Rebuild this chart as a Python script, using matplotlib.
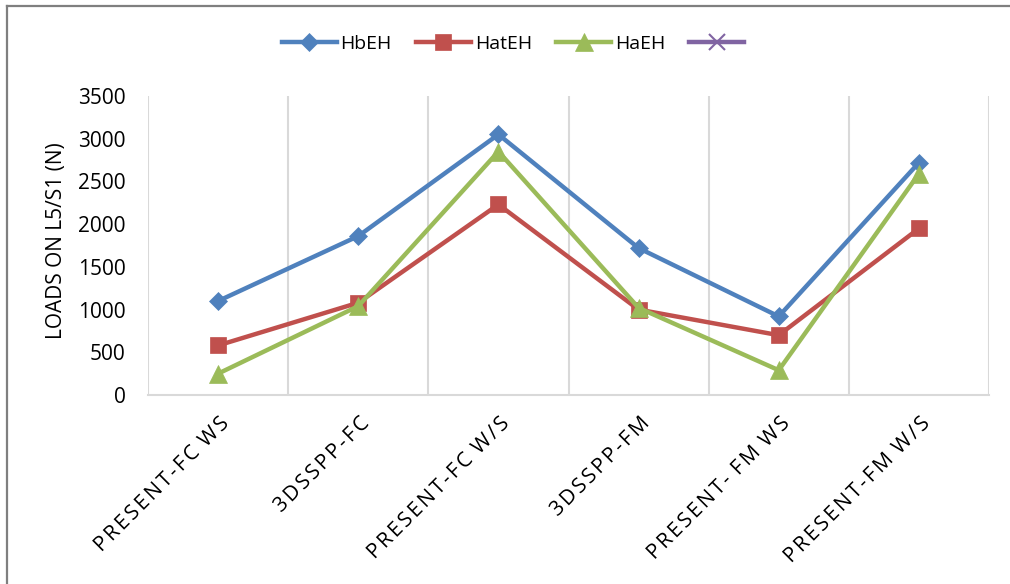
import numpy as np
import matplotlib
matplotlib.use("Agg")
import matplotlib.pyplot as plt
from matplotlib.lines import Line2D
from matplotlib.path import Path
from matplotlib.patheffects import AbstractPathEffect

categories = ["PRESENT-FC WS", "3DSSPP-FC", "PRESENT-FC W/S",
              "3DSSPP-FM", "PRESENT- FM WS", "PRESENT-FM W/S"]
hbeh = [1100, 1860, 3050, 1720, 920, 2720]
hateh = [580, 1080, 2230, 1000, 700, 1950]
haeh = [250, 1040, 2850, 1020, 290, 2590]
y_ticks = [0, 500, 1000, 1500, 2000, 2500, 3000, 3500]

FONT = "Open Sans"
plt.rcParams["font.family"] = [FONT, "DejaVu Sans"]


class Tracking(AbstractPathEffect):
    """Loosen letter spacing of a text path, keeping its right end fixed."""

    def __init__(self, track=12.0):
        super().__init__()
        self.track = track  # in text-path units (100 per em)

    def draw_path(self, renderer, gc, tpath, affine, rgbFace=None):
        verts = np.array(tpath.vertices, dtype=float)
        codes = tpath.codes
        if codes is None or len(verts) == 0:
            renderer.draw_path(gc, tpath, affine, rgbFace)
            return
        starts = list(np.where(codes == Path.MOVETO)[0]) + [len(verts)]
        contours = []
        for a, b in zip(starts[:-1], starts[1:]):
            xs = verts[a:b, 0]
            contours.append((xs.min(), xs.max(), a, b))
        contours.sort(key=lambda c: c[0])
        # group contours into glyphs by horizontal overlap
        groups = []
        for c in contours:
            if groups and c[0] < groups[-1][1] - 1.0:
                groups[-1][1] = max(groups[-1][1], c[1])
                groups[-1][2].append(c)
            else:
                groups.append([c[0], c[1], [c]])
        n = len(groups)
        new = verts.copy()
        for i, g in enumerate(groups):
            shift = (i - (n - 1)) * self.track
            for (_, _, a, b) in g[2]:
                new[a:b, 0] = verts[a:b, 0] + shift
        renderer.draw_path(gc, Path(new, codes), affine, rgbFace)


fig = plt.figure(figsize=(10.10, 5.84), dpi=100)
ax = fig.add_axes([148 / 1010, 1 - 395 / 584, (989 - 148) / 1010, (395 - 96) / 584])

x = list(range(len(categories)))
series = [
    ("HbEH", hbeh, "#4F81BD", "D", 9.5),
    ("HatEH", hateh, "#C0504D", "s", 12),
    ("HaEH", haeh, "#9BBB59", "^", 13),
]
handles = []
for name, vals, color, marker, ms in series:
    ln, = ax.plot(x, vals, color=color, lw=3.2, marker=marker, ms=ms,
                  mfc=color, mec=color, mew=0.5, label=name,
                  solid_joinstyle="round", zorder=3)
    handles.append(ln)
# empty fourth series shown only in the legend
handles.append(Line2D([], [], color="#8064A2", lw=3.2, marker="x", ms=11,
                      mew=1.5, label=""))

ax.set_xlim(-0.5, len(categories) - 0.5)
ax.set_ylim(0, 3500)
ax.set_yticks(y_ticks)
ax.set_yticklabels([str(v) for v in y_ticks], fontsize=15)

# vertical gridlines on category boundaries
for b in [i - 0.5 for i in range(len(categories) + 1)]:
    ax.axvline(b, color="#D9D9D9", lw=1.5, zorder=1)

for side in ["top", "right", "left"]:
    ax.spines[side].set_visible(False)
ax.spines["bottom"].set_color("#D9D9D9")
ax.spines["bottom"].set_linewidth(1.5)
ax.tick_params(axis="both", length=0)
ax.tick_params(axis="y", pad=16)

ax.set_xticks(x)
ax.set_xticklabels(categories, rotation=45, ha="right", va="top",
                   rotation_mode="anchor", fontsize=15)
ax.tick_params(axis="x", pad=13)
for lbl in ax.get_xticklabels():
    lbl.set_path_effects([Tracking(12.0)])

ax.set_ylabel("LOADS ON L5/S1 (N)", fontsize=15)
ax.yaxis.set_label_coords(-0.0965, 0.515)

fig.legend(handles=handles, labels=["HbEH", "HatEH", "HaEH", ""],
           loc="center", bbox_to_anchor=(515 / 1010, 1 - 44 / 584),
           ncol=4, frameon=False, fontsize=14, handlelength=2.83,
           columnspacing=1.24, handletextpad=0.2)

# chart area border
fig.add_artist(Line2D([7 / 1010, 7 / 1010], [0, 1 - 6 / 584],
                      transform=fig.transFigure, color="#7F7F7F", lw=1.6))
fig.add_artist(Line2D([7 / 1010, 1], [1 - 6 / 584, 1 - 6 / 584],
                      transform=fig.transFigure, color="#7F7F7F", lw=1.6))

fig.savefig("out.png", dpi=100)
